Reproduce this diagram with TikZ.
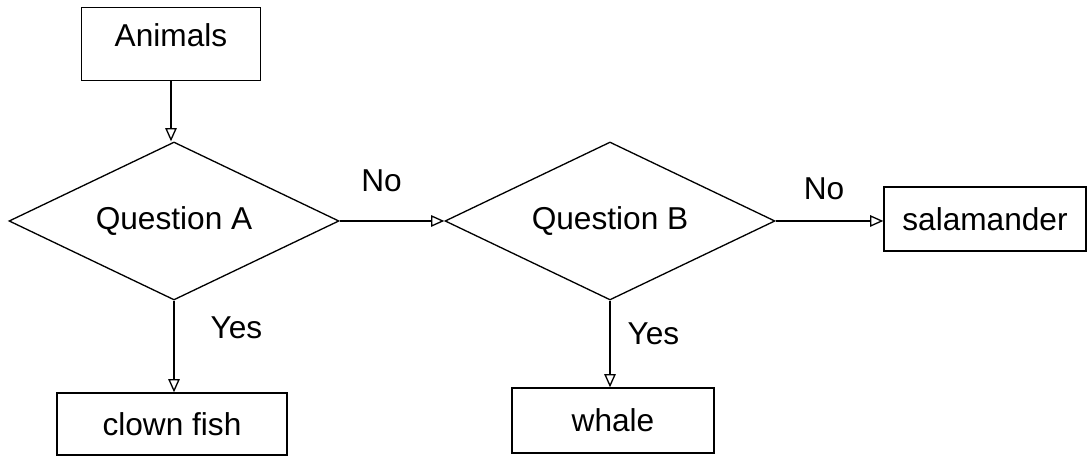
\documentclass[tikz,border=0pt]{standalone}
\usepackage{fontspec}
\setmainfont{Liberation Sans}
\usetikzlibrary{shapes.geometric,arrows.meta}
\begin{document}
\begin{tikzpicture}[line width=0.75pt,
  font=\fontsize{18}{22}\selectfont,
  box/.style={draw,rectangle,inner sep=0pt},
  question/.style={draw,diamond,aspect=2,inner sep=0pt,minimum width=6.6cm,minimum height=3.16cm},
  arr/.style={-{Triangle[open,length=7.5pt,width=6.5pt]}},
  lbl/.style={inner sep=0pt}]
\useasboundingbox(0,0)rectangle(21.76,9.16);
%
\node[box,minimum width=3.58cm,minimum height=1.46cm,text height=0.46cm,text depth=0.36cm](animals)at(3.42,8.28){Animals};
\node[question](qa)at(3.48,4.74){Question A};
\node[question](qb)at(12.2,4.74){Question B};
\node[box,minimum width=4.04cm,minimum height=1.28cm](salamander)at(19.7,4.78){salamander};
\node[box,minimum width=4.6cm,minimum height=1.24cm](clownfish)at(3.44,0.68){clown fish};
\node[box,minimum width=4.04cm,minimum height=1.3cm](whale)at(12.26,0.75){whale};
%
\draw[arr](animals.south)--(animals.south|-qa.north);
\draw[arr](qa.east)--(qb.west)node[lbl,above=0.57cm,pos=.4]{No};
\draw[arr](qb.east)--(qb.east-|salamander.west)node[lbl,above=0.41cm,pos=.45]{No};
\draw[arr](qa.south)--(qa.south|-clownfish.north)node[lbl,right=0.72cm,pos=.3]{Yes};
\draw[arr](qb.south)--(qb.south|-whale.north)node[lbl,right=0.34cm,pos=.38]{Yes};
\end{tikzpicture}
\end{document}
